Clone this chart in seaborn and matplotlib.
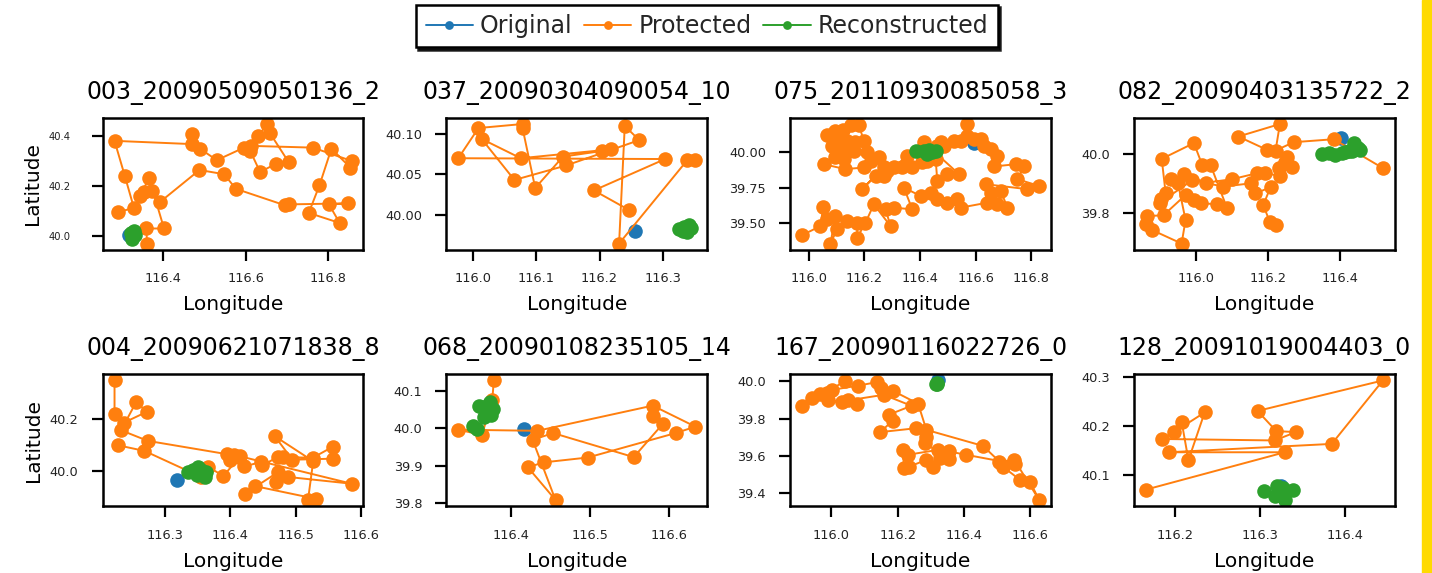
import matplotlib
matplotlib.use("Agg")
import matplotlib.pyplot as plt
import seaborn as sns
from matplotlib.patches import Rectangle
from matplotlib.ticker import MultipleLocator

# ---- data (lon / lat per trajectory) ----

titles = ["003_20090509050136_2", "037_20090304090054_10", "075_20110930085058_3",
          "082_20090403135722_2", "004_20090621071838_8", "068_20090108235105_14",
          "167_20090116022726_0", "128_20091019004403_0"]

original_lon = [116.317, 116.256, 116.594, 116.402, 116.318, 116.416, 116.323, 116.325]
original_lat = [40.004, 39.979, 40.066, 40.053, 39.964, 39.998, 40.005, 40.078]

protected_lon = [
    [116.290, 116.329, 116.307, 116.282, 116.470, 116.469, 116.489, 116.530, 116.596, 116.631,
     116.652, 116.658, 116.704, 116.674, 116.635, 116.611, 116.612, 116.763, 116.857, 116.854,
     116.808, 116.779, 116.753, 116.828, 116.802, 116.849, 116.704, 116.696, 116.576, 116.548,
     116.488, 116.392, 116.374, 116.353, 116.343, 116.366, 116.402, 116.359, 116.361],
    [116.246, 116.191, 116.304, 115.976, 116.008, 116.078, 116.078, 116.098, 116.142, 116.204,
     116.218, 116.075, 116.013, 116.065, 116.147, 116.263, 116.240, 116.231, 116.339, 116.352],
    [115.976, 116.042, 116.052, 116.066, 116.096, 116.078, 116.102, 116.138, 116.174, 116.174,
     116.204, 116.234, 116.294, 116.276, 116.306, 116.372, 116.342, 116.402, 116.438, 116.462,
     116.498, 116.534, 116.546, 116.642, 116.678, 116.714, 116.690, 116.654, 116.636, 116.786,
     116.828, 116.750, 116.774, 116.744, 116.666, 116.678, 116.654, 116.630, 116.618, 116.594,
     116.570, 116.570, 116.546, 116.522, 116.486, 116.474, 116.462, 116.414, 116.540, 116.498,
     116.462, 116.456, 116.426, 116.408, 116.372, 116.336, 116.354, 116.306, 116.282, 116.270,
     116.240, 116.192, 116.270, 116.252, 116.222, 116.198, 116.132, 116.054, 116.096, 116.126,
     116.210, 116.162, 116.132, 116.102, 116.082, 116.108, 116.138, 116.168, 116.198, 116.180,
     116.152, 116.124, 116.096, 116.064],
    [116.518, 116.382, 116.271, 116.221, 116.233, 116.118, 116.198, 116.253, 116.248, 116.267,
     116.230, 116.234, 116.193, 116.170, 116.101, 116.028, 115.968, 115.931, 115.951, 115.972,
     115.961, 115.880, 115.862, 115.865, 115.911, 115.972, 115.995, 116.016, 116.058, 116.087,
     116.041, 116.018, 115.995, 115.906, 115.917, 115.903, 115.901, 115.991, 116.076, 116.152,
     116.165, 116.207, 116.187, 116.205, 116.221],
    [116.222, 116.222, 116.236, 116.272, 116.255, 116.232, 116.273, 116.405, 116.394, 116.400,
     116.421, 116.447, 116.449, 116.473, 116.481, 116.526, 116.557, 116.558, 116.495, 116.468,
     116.527, 116.519, 116.532, 116.437, 116.422, 116.473, 116.470, 116.489, 116.586, 116.415,
     116.389, 116.366, 116.355, 116.268, 116.227],
    [116.378, 116.376, 116.363, 116.333, 116.433, 116.579, 116.633, 116.608, 116.497, 116.441,
     116.421, 116.456, 116.427, 116.453, 116.555, 116.592, 116.579],
    [116.040, 115.985, 115.965, 115.940, 115.911, 116.003, 116.080, 116.138, 116.151, 116.185,
     116.262, 116.287, 116.458, 116.508, 116.553, 116.628, 116.600, 116.570, 116.518, 116.556,
     116.408, 116.356, 116.323, 116.230, 116.215, 116.220, 116.235, 116.287, 116.306, 116.328,
     116.356, 116.282, 116.287, 116.257, 116.148, 116.185, 116.173, 116.242, 116.158, 116.050,
     116.033, 115.990, 116.076],
    [116.166, 116.329, 116.193, 116.384, 116.444, 116.297, 116.319, 116.342, 116.317, 116.185,
     116.199, 116.235, 116.216, 116.208],
]
protected_lat = [
    [40.096, 40.113, 40.240, 40.380, 40.367, 40.409, 40.349, 40.303, 40.353, 40.400,
     40.447, 40.413, 40.296, 40.289, 40.256, 40.340, 40.360, 40.353, 40.300, 40.273,
     40.349, 40.203, 40.093, 40.053, 40.127, 40.131, 40.127, 40.123, 40.189, 40.247,
     40.264, 40.136, 40.180, 40.176, 40.160, 40.231, 40.031, 40.031, 39.971],
    [40.006, 40.030, 40.069, 40.070, 40.1075, 40.1125, 40.107, 40.033, 40.072, 40.079,
     40.081, 40.070, 40.094, 40.043, 40.061, 40.0925, 40.110, 39.964, 40.0675, 40.0675],
    [39.417, 39.481, 39.616, 39.528, 39.552, 39.358, 39.458, 39.517, 39.505, 39.399,
     39.505, 39.634, 39.481, 39.599, 39.611, 39.599, 39.752, 39.693, 39.717, 39.670,
     39.646, 39.670, 39.611, 39.646, 39.634, 39.611, 39.729, 39.717, 39.776, 39.741,
     39.764, 39.811, 39.901, 39.917, 39.901, 39.976, 40.024, 40.047, 40.094, 40.094,
     40.118, 40.200, 40.083, 40.083, 40.047, 40.071, 40.047, 40.071, 39.847, 39.847,
     39.800, 39.953, 39.941, 39.929, 39.894, 39.894, 39.976, 39.894, 39.870, 39.835,
     39.835, 39.741, 39.894, 39.965, 39.941, 39.894, 39.882, 39.917, 39.965, 39.953,
     40.000, 40.012, 40.012, 40.012, 40.047, 40.071, 40.083, 40.071, 40.083, 40.193,
     40.193, 40.160, 40.153, 40.125],
    [39.952, 40.049, 40.039, 40.011, 40.100, 40.058, 40.013, 39.989, 39.974, 39.955,
     39.952, 39.924, 39.937, 39.935, 39.915, 39.903, 39.931, 39.915, 39.901, 39.778,
     39.699, 39.744, 39.766, 39.791, 39.794, 39.862, 39.845, 39.834, 39.831, 39.817,
     39.963, 39.963, 40.036, 39.983, 39.867, 39.847, 39.836, 39.912, 39.890, 39.901,
     39.867, 39.888, 39.828, 39.772, 39.761],
    [40.351, 40.221, 40.187, 40.230, 40.266, 40.158, 40.117, 40.061, 40.068, 40.042,
     40.018, 40.035, 40.022, 40.055, 40.055, 40.051, 40.094, 40.048, 40.044, 40.135,
     40.038, 39.888, 39.892, 39.942, 39.912, 39.996, 39.957, 39.977, 39.951, 40.057,
     39.981, 40.016, 39.977, 40.078, 40.100],
    [40.127, 40.076, 39.982, 39.996, 39.993, 40.060, 40.004, 39.987, 39.922, 39.909,
     39.896, 39.809, 39.969, 39.987, 39.923, 40.012, 40.033],
    [40.004, 39.937, 39.934, 39.910, 39.869, 39.955, 39.977, 39.996, 39.964, 39.950,
     39.880, 39.740, 39.654, 39.570, 39.579, 39.364, 39.463, 39.472, 39.543, 39.557,
     39.606, 39.624, 39.633, 39.606, 39.633, 39.534, 39.543, 39.579, 39.543, 39.588,
     39.583, 39.669, 39.704, 39.749, 39.728, 39.790, 39.821, 39.869, 39.928, 39.898,
     39.887, 39.898, 39.878],
    [40.071, 40.147, 40.147, 40.164, 40.293, 40.231, 40.190, 40.188, 40.171, 40.174,
     40.188, 40.228, 40.131, 40.209],
]

reconstructed_lon = [
    [116.325, 116.323, 116.327, 116.331, 116.329],
    [116.326, 116.332, 116.339, 116.345, 116.342, 116.334],
    [116.384, 116.414, 116.432, 116.444, 116.456, 116.426],
    [116.349, 116.368, 116.386, 116.405, 116.414, 116.423, 116.432, 116.437, 116.448, 116.455],
    [116.335, 116.343, 116.350, 116.355, 116.363, 116.361, 116.348],
    [116.352, 116.357, 116.365, 116.368, 116.359, 116.371, 116.373, 116.377, 116.375],
    [116.318, 116.320, 116.316],
    [116.304, 116.320, 116.327, 116.338, 116.324, 116.318, 116.329],
]
reconstructed_lat = [
    [39.989, 40.013, 40.000, 40.007, 40.020],
    [39.9825, 39.980, 39.978, 39.983, 39.9875, 39.985],
    [40.012, 40.012, 40.019, 40.000, 40.012, 39.988],
    [40.000, 40.002, 39.997, 40.004, 40.006, 40.010, 40.008, 40.036, 40.019, 40.013],
    [39.996, 40.005, 40.016, 40.003, 39.996, 39.977, 39.983],
    [40.006, 39.997, 40.029, 40.049, 40.060, 40.062, 40.069, 40.051, 40.036],
    [39.991, 39.986, 39.988],
    [40.069, 40.078, 40.074, 40.071, 40.064, 40.059, 40.050],
]

x_steps = [0.2, 0.1, 0.2, 0.2, 0.1, 0.1, 0.2, 0.1]
y_steps = [0.2, 0.05, 0.25, 0.2, 0.2, 0.1, 0.2, 0.1]

colors = {"Original": "#1f77b4", "Protected": "#ff7f0e", "Reconstructed": "#2ca02c"}

# ---- plotting ----

sns.set_style("ticks")
plt.rcParams["font.family"] = ["DejaVu Sans"]

fig, axes = plt.subplots(2, 4, figsize=(14.32, 5.73), dpi=100)
fig.subplots_adjust(left=0.0717, right=0.974, bottom=0.117, top=0.794, wspace=0.318, hspace=0.95)

line_kw = dict(sort=False, estimator=None, marker="o", markersize=10.5,
               markeredgewidth=0, linewidth=1.4, legend=False)

for i, ax in enumerate(axes.flat):
    sns.lineplot(x=[original_lon[i]], y=[original_lat[i]], ax=ax,
                 color=colors["Original"], label="Original", **line_kw)
    sns.lineplot(x=protected_lon[i], y=protected_lat[i], ax=ax,
                 color=colors["Protected"], label="Protected", **line_kw)
    sns.lineplot(x=reconstructed_lon[i], y=reconstructed_lat[i], ax=ax,
                 color=colors["Reconstructed"], label="Reconstructed", **line_kw)
    if ax.get_legend():
        ax.get_legend().remove()

    ax.set_title(titles[i], fontsize=17, pad=14, color="black")
    ax.set_xlabel("Longitude", fontsize=14.5, labelpad=7, color="black")
    if i % 4 == 0:
        ax.set_ylabel("Latitude", fontsize=14.5, labelpad=5, color="black")
    else:
        ax.set_ylabel("")

    ax.xaxis.set_major_locator(MultipleLocator(x_steps[i]))
    ax.yaxis.set_major_locator(MultipleLocator(y_steps[i]))
    ax.ticklabel_format(useOffset=False)
    ax.tick_params(axis="both", direction="out", length=8, width=1.6,
                   labelsize=9.3, color="black", labelcolor="#222222")
    ax.tick_params(axis="x", pad=8.5)
    ax.tick_params(axis="y", pad=9.5)
    for sp in ax.spines.values():
        sp.set_linewidth(1.8)
        sp.set_color("black")

# first panel has smaller y tick labels in the reference
axes[0, 0].tick_params(axis="y", labelsize=7.2, pad=15)

handles, labels = axes[0, 0].get_legend_handles_labels()
leg = fig.legend(handles, labels, loc="upper center", bbox_to_anchor=(0.4937, 0.992),
                 borderaxespad=0, ncol=3, fontsize=17, frameon=True, fancybox=False,
                 framealpha=1, edgecolor="black", handlelength=2.0, handletextpad=0.3,
                 columnspacing=0.5, borderpad=0.4, markerscale=0.6,
                 shadow={"color": "black", "alpha": 0.85, "ox": 1.5, "oy": -1.5})
leg.get_frame().set_linewidth(1.8)

# yellow strip at the right edge of the reference
fig.add_artist(Rectangle((1422 / 1432, 0), 10 / 1432, 1, transform=fig.transFigure,
                         color="#FFDA00", zorder=0))

fig.savefig("out.png", dpi=100)
